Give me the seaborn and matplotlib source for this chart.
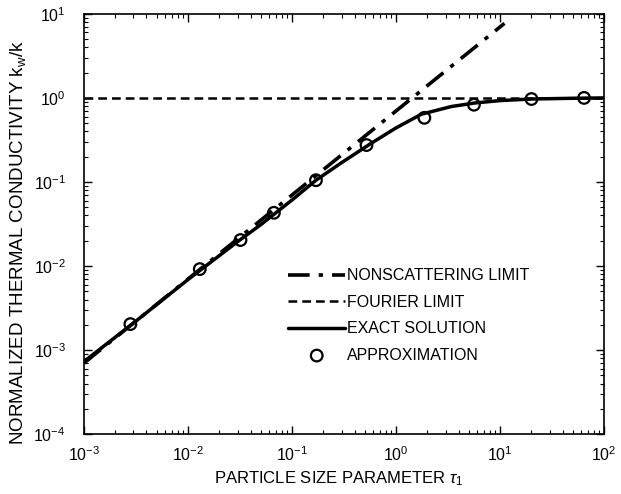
import numpy as np
import pandas as pd
import matplotlib
matplotlib.use("Agg")
import matplotlib.pyplot as plt
from matplotlib.ticker import LogLocator, NullFormatter
import seaborn as sns

# Nonscattering (ballistic) limit: straight line on log-log axes
nonscat_tau = [1e-3, 11.0]
nonscat_k = [7.0e-4, 7.7]

# Fourier (diffusive) limit
fourier_tau = [1e-3, 1e2]
fourier_k = [1.0, 1.0]

# Exact solution of the transport equation
exact_tau = [0.001, 0.003, 0.01, 0.03, 0.05, 0.1, 0.17, 0.3, 0.58, 1.0,
             1.75, 3.4, 5.7, 10.0, 20.0, 50.0, 100.0]
exact_k = [7.3e-4, 2.1e-3, 6.9e-3, 1.95e-2, 3.1e-2, 6.1e-2, 0.105, 0.17,
           0.29, 0.44, 0.64, 0.79, 0.87, 0.93, 0.97, 0.99, 1.0]

# Approximate model
approx_tau = [2.8e-3, 1.3e-2, 3.2e-2, 6.7e-2, 0.17, 0.52, 1.87, 5.6, 20.0, 64.0]
approx_k = [2.04e-3, 9.2e-3, 2.04e-2, 4.3e-2, 0.105, 0.275, 0.58, 0.83, 0.97, 1.0]

sns.set_style("ticks")
plt.rcParams["font.family"] = ["Liberation Sans", "DejaVu Sans"]
plt.rcParams["mathtext.fontset"] = "custom"
plt.rcParams["mathtext.rm"] = "Liberation Sans"
plt.rcParams["mathtext.it"] = "Liberation Sans:italic"
plt.rcParams["mathtext.bf"] = "Liberation Sans:bold"
for key in ("text.color", "axes.labelcolor", "xtick.color", "ytick.color",
            "axes.edgecolor"):
    plt.rcParams[key] = "black"

fig = plt.figure(figsize=(6.21, 4.94), dpi=100)
ax = fig.add_axes([0.135, 0.121, 0.838, 0.851])

sns.lineplot(x=nonscat_tau, y=nonscat_k, ax=ax, color="black", lw=2.6,
             linestyle=(0, (6, 2.5, 1.2, 2.5)), label="NONSCATTERING LIMIT")
sns.lineplot(x=fourier_tau, y=fourier_k, ax=ax, color="black", lw=1.8,
             linestyle=(0, (3.5, 2)), label="FOURIER LIMIT")
sns.lineplot(x=exact_tau, y=exact_k, ax=ax, color="black", lw=2.5,
             label="EXACT SOLUTION")
sns.scatterplot(x=approx_tau, y=approx_k, ax=ax, marker="o", s=70,
                facecolors="none", edgecolor="black", linewidth=1.6,
                label="APPROXIMATION")

ax.set_xscale("log")
ax.set_yscale("log")
ax.set_xlim(1e-3, 1e2)
ax.set_ylim(1e-4, 1e1)

ax.xaxis.set_major_locator(LogLocator(base=10, numticks=10))
ax.yaxis.set_major_locator(LogLocator(base=10, numticks=10))
ax.xaxis.set_minor_locator(LogLocator(base=10, subs=np.arange(2, 10), numticks=20))
ax.yaxis.set_minor_locator(LogLocator(base=10, subs=np.arange(2, 10), numticks=20))
ax.xaxis.set_minor_formatter(NullFormatter())
ax.yaxis.set_minor_formatter(NullFormatter())

ax.tick_params(which="both", direction="in", top=True, right=True, color="black",
               labelcolor="black")
ax.tick_params(which="major", length=6, width=1, labelsize=11.5)
ax.tick_params(axis="x", which="major", pad=8)
ax.tick_params(axis="y", which="major", pad=13)
ax.tick_params(which="minor", length=3, width=0.8)
for sp in ax.spines.values():
    sp.set_linewidth(1.2)
    sp.set_color("black")

ax.set_xlabel(r"PARTICLE SIZE PARAMETER $\tau_{\mathrm{1}}$", fontsize=12)
ax.xaxis.set_label_coords(0.49, -0.083)
ax.set_ylabel(r"NORMALIZED THERMAL CONDUCTIVITY k$_{\mathrm{w}}$/k", fontsize=13.5)
ax.yaxis.set_label_coords(-0.108, 0.457)

leg = ax.legend(loc="upper left", bbox_to_anchor=(0.38, 0.41), frameon=False,
                fontsize=11.5, handlelength=3.6, handletextpad=0.1,
                labelspacing=0.72, borderaxespad=0)
for t in leg.get_texts():
    t.set_color("black")

fig.savefig("out.png", dpi=100)
